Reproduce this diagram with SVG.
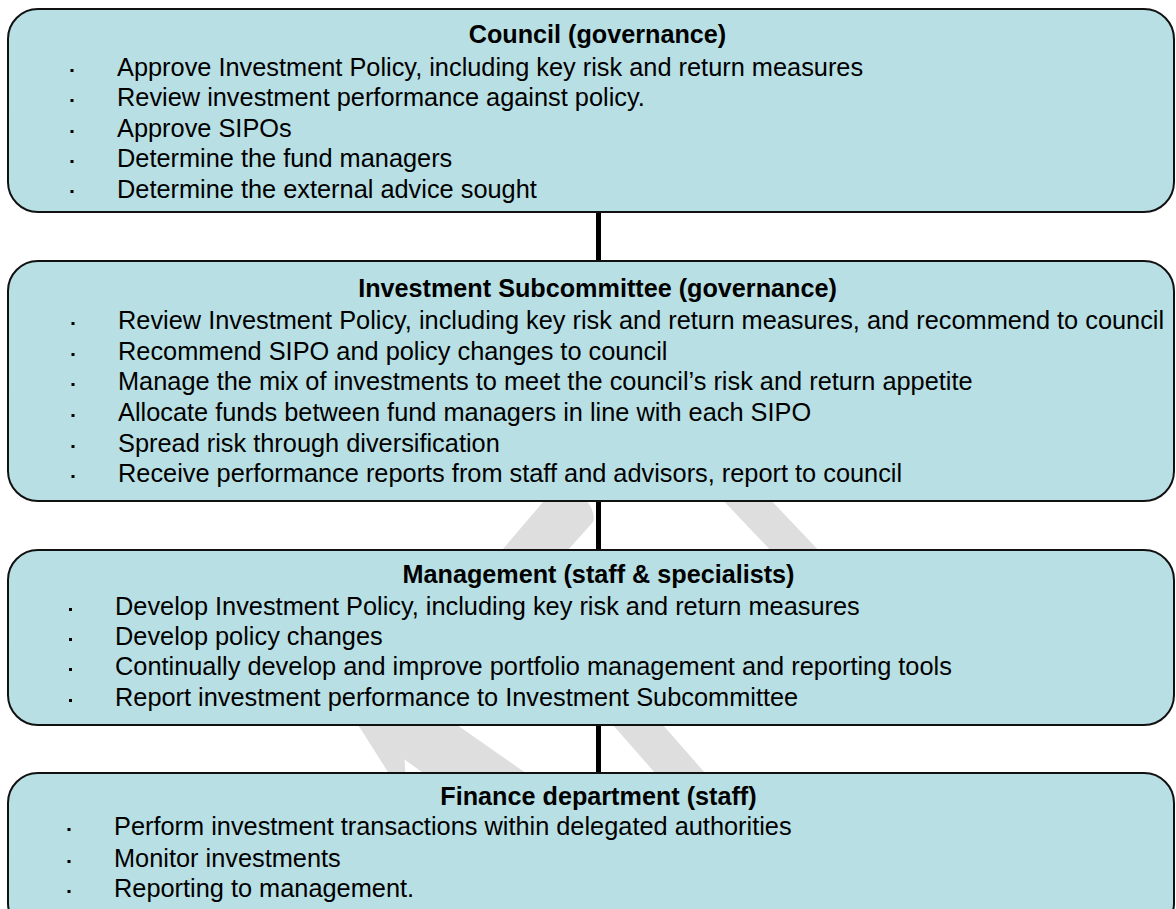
<svg xmlns="http://www.w3.org/2000/svg" width="1176" height="909" viewBox="0 0 1176 909">
<style>
.box{fill:#b8dfe3;stroke:#111;stroke-width:2}
.t{font-family:"Liberation Sans",Arial,sans-serif;font-size:25.2px;font-weight:bold;fill:#000;text-anchor:middle}
.b{font-family:"Liberation Sans",Arial,sans-serif;font-size:25.35px;fill:#000}
.d{fill:#000}
.wm{fill:#dedede}
.c{stroke:#000;stroke-width:5}
</style>
<rect width="1176" height="909" fill="#fff"/>
<g id="watermark">
<path class="wm" d="M549,495 L582,495 Q597,512 593,522 L568,550 L563,556 L497,556 Z"/>
<path class="wm" d="M718,495 L766,495 L824,556 L776,556 Z"/>
<path class="wm" d="M606,717 L656,717 L712,781 L662,781 Z"/>
<path class="wm" d="M355,720 L402,720 L406,783 L395,783 Z"/>
<path class="wm" d="M350,720 L450,720 L540,783 L437,783 Z"/>
</g>
<g id="connectors">
<line class="c" x1="598.5" y1="212" x2="598.5" y2="261"/>
<line class="c" x1="598.5" y1="501" x2="598.5" y2="550"/>
<line class="c" x1="598.5" y1="725" x2="598.5" y2="773"/>
</g>
<g id="council">
<rect class="box" x="8" y="9" width="1166" height="203" rx="30" ry="30"/>
<text class="t" x="597.5" y="43">Council (governance)</text>
<rect class="d" x="70.5" y="69" width="3" height="3"/>
<rect class="d" x="70.5" y="99" width="3" height="3"/>
<rect class="d" x="70.5" y="130" width="3" height="3"/>
<rect class="d" x="70.5" y="160" width="3" height="3"/>
<rect class="d" x="70.5" y="190" width="3" height="3"/>
<text class="b" x="117" y="76">Approve Investment Policy, including key risk and return measures</text>
<text class="b" x="117" y="106">Review investment performance against policy.</text>
<text class="b" x="117" y="137">Approve SIPOs</text>
<text class="b" x="117" y="167">Determine the fund managers</text>
<text class="b" x="117" y="198">Determine the external advice sought</text>
</g>
<g id="subcommittee">
<rect class="box" x="8" y="261" width="1166" height="240" rx="30" ry="30"/>
<text class="t" x="597.5" y="297">Investment Subcommittee (governance)</text>
<rect class="d" x="71.5" y="322" width="3" height="3"/>
<rect class="d" x="71.5" y="353" width="3" height="3"/>
<rect class="d" x="71.5" y="383" width="3" height="3"/>
<rect class="d" x="71.5" y="414" width="3" height="3"/>
<rect class="d" x="71.5" y="445" width="3" height="3"/>
<rect class="d" x="71.5" y="475" width="3" height="3"/>
<text class="b" x="118" y="329">Review Investment Policy, including key risk and return measures, and recommend to council</text>
<text class="b" x="118" y="360">Recommend SIPO and policy changes to council</text>
<text class="b" x="118" y="390">Manage the mix of investments to meet the council’s risk and return appetite</text>
<text class="b" x="118" y="421">Allocate funds between fund managers in line with each SIPO</text>
<text class="b" x="118" y="452">Spread risk through diversification</text>
<text class="b" x="118" y="482">Receive performance reports from staff and advisors, report to council</text>
</g>
<g id="management">
<rect class="box" x="8" y="550" width="1166" height="175" rx="30" ry="30"/>
<text class="t" x="598.5" y="583">Management (staff &amp; specialists)</text>
<rect class="d" x="69" y="608" width="3" height="3"/>
<rect class="d" x="69" y="638" width="3" height="3"/>
<rect class="d" x="69" y="668" width="3" height="3"/>
<rect class="d" x="69" y="699" width="3" height="3"/>
<text class="b" x="115" y="615">Develop Investment Policy, including key risk and return measures</text>
<text class="b" x="115" y="645">Develop policy changes</text>
<text class="b" x="115" y="675">Continually develop and improve portfolio management and reporting tools</text>
<text class="b" x="115" y="706">Report investment performance to Investment Subcommittee</text>
</g>
<g id="finance">
<rect class="box" x="8" y="773" width="1166" height="160" rx="30" ry="30"/>
<text class="t" x="598.5" y="805">Finance department (staff)</text>
<rect class="d" x="67.5" y="828" width="3" height="3"/>
<rect class="d" x="67.5" y="860" width="3" height="3"/>
<rect class="d" x="67.5" y="890" width="3" height="3"/>
<text class="b" x="114" y="835">Perform investment transactions within delegated authorities</text>
<text class="b" x="114" y="867">Monitor investments</text>
<text class="b" x="114" y="897">Reporting to management.</text>
</g>
</svg>
